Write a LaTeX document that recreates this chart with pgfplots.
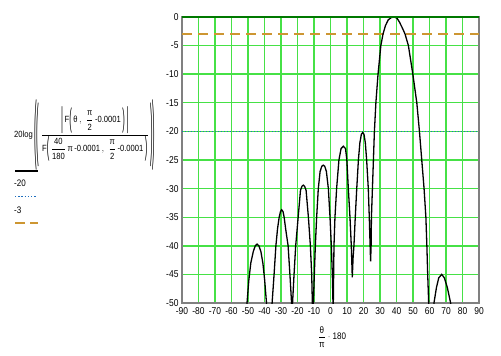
\documentclass[border=0pt]{standalone}
\usepackage{fontspec}
\usepackage{amsmath}
\usepackage{graphicx}
\usepackage{pgfplots}
\pgfplotsset{compat=1.18}
\setmainfont{Liberation Sans}
\newfontfamily\nf[FakeStretch=0.85]{Liberation Sans}
\definecolor{gridgreen}{RGB}{70,225,70}
\definecolor{topgreen}{RGB}{0,120,0}
\definecolor{dotblue}{RGB}{30,110,190}
\definecolor{dashtan}{RGB}{205,150,50}
\definecolor{framegray}{RGB}{128,128,128}
\newcommand\T[1]{\text{\nf #1}}
\newcommand\F[2]{\dfrac{\T{#1}\rule[-3pt]{0pt}{0pt}}{\rule{0pt}{9pt}\T{#2}}}
\newcommand\Lp[1]{\mathopen{\vcenter{\hbox{\scalebox{1}[#1]{\nf (}}}}}
\newcommand\Rp[1]{\mathclose{\vcenter{\hbox{\scalebox{1}[#1]{\nf )}}}}}
\newcommand\Vb[1]{\mathord{\vcenter{\hbox{\scalebox{1}[#1]{\nf |}}}}}
\begin{document}
\begin{tikzpicture}[x=1bp,y=1bp]
\begin{axis}[
  at={(182bp,52bp)}, anchor=south west,
  scale only axis, width=297bp, height=286bp,
  xmin=-90, xmax=90, ymin=-50, ymax=0,
  xtick={-90,-80,...,90},
  xticklabels={-90,-80,-70,-60,-50,-40,-30,-20,-10,0,10,20,30,40,50,60,70,80,90},
  ytick={-50,-45,...,0},
  yticklabels={-50,-45,-40,-35,-30,-25,-20,-15,-10,-5,0},
  major tick length=0pt,
  grid=major,
  major grid style={gridgreen, line width=1.4bp},
  axis line style={framegray, line width=1.2bp},
  ticklabel style={font=\nf\fontsize{10}{12}\selectfont},
  xticklabel style={yshift=-1.5bp},
  clip=true,
]
\addplot[dotblue, line width=1.6bp, dash pattern=on 1.4bp off 1.6bp] coordinates {(-90,-20) (90,-20)};
\addplot[dashtan, line width=2bp, dash pattern=on 10bp off 6bp] coordinates {(-90,-2.9) (90,-2.9)};
\addplot[black, line width=1.3bp] coordinates {
(-51.8,-65) (-50.6,-50) (-49.5,-46) (-48.3,-43) (-46.8,-41) (-45.6,-40) (-44.5,-39.7) (-43.4,-40) (-42.2,-41) (-41,-43) (-39.9,-46) (-38.8,-50) (-37.2,-65)
(-35.4,-50) (-34.2,-45) (-33.1,-40) (-32.1,-37) (-31.1,-35) (-30.3,-34) (-29.6,-33.7) (-28.8,-34) (-28.1,-35) (-27.2,-37) (-25.7,-40) (-24.6,-45) (-23.6,-50) (-23.3,-65)
(-23.0,-50) (-22.1,-45) (-21.1,-40) (-19.6,-35) (-18.2,-30.3) (-17.3,-29.6) (-16.5,-29.4) (-15.7,-29.6) (-14.8,-30.3) (-13.4,-35) (-12.2,-40) (-11.4,-45) (-11.0,-50) (-10.7,-65)
(-10.4,-50) (-9.8,-45) (-9.2,-40) (-8.4,-35) (-7.4,-30) (-6.3,-27) (-5.3,-26.1) (-4.4,-25.9) (-3.5,-26.1) (-2.5,-27) (-1.3,-30) (-0.3,-35) (0.5,-40) (1.1,-45) (1.5,-50) (1.6,-65)
(1.7,-50) (2.1,-40) (2.7,-35) (3.7,-30) (5.1,-25) (6.4,-23) (7.8,-22.6) (9.1,-23) (9.9,-25) (10.8,-30) (11.8,-35) (12.6,-40) (13.2,-45.5)
(13.7,-42) (14.2,-40) (15.0,-35) (15.9,-30) (16.9,-25) (17.8,-22) (18.7,-20.5) (19.5,-20.2) (20.3,-20.5) (21.1,-22) (21.9,-25) (22.9,-30) (23.5,-35) (24.0,-40) (24.3,-42.7)
(24.6,-40) (24.8,-35) (25.4,-30) (26.0,-25) (26.6,-20) (27.5,-15) (28.8,-10) (30.5,-5) (31.8,-3) (33.3,-1.5) (35,-0.5) (36.8,-0.1) (38.5,0) (40.3,-0.2) (41.8,-0.9) (43.5,-1.9) (45.2,-3) (47.2,-5) (49.9,-10) (52.3,-15) (53.9,-20) (55.3,-25) (56.7,-30) (57.8,-35) (58.4,-40) (58.9,-45) (59.5,-50) (60.3,-65)
(62.7,-50) (64.2,-47.3) (65.6,-45.6) (67.4,-45) (69,-45.6) (70.8,-47.3) (72.8,-50) (74,-58)
};
\addplot[topgreen, line width=1.8bp] coordinates {(-90,0) (90,0)};
\end{axis}
\node[anchor=west, inner sep=0, font=\nf\fontsize{9}{11}\selectfont] at (14,220)
 {$\displaystyle \T{20log}\,\Lp{8.4}\Lp{7.6}\,\frac{\Vb{3.2}\,\T{F}\Lp{3}\,\T{θ}\,,\;\F{π}{2}\,\T{-0.0001}\,\Rp{3}\,\Vb{3.2}\rule[-4pt]{0pt}{0pt}}{\rule{0pt}{14pt}\T{F}\Lp{3}\,\F{40}{180}\,\T{π}\,\T{-0.0001}\,,\;\F{π}{2}\,\T{-0.0001}\,\Rp{3}}\,\Rp{7.6}\Rp{8.4}$};
\draw[black, line width=2bp] (15,184.3) -- (38,184.3);
\node[anchor=west, inner sep=0, font=\nf\fontsize{9.5}{11}\selectfont] at (14,172) {-20};
\draw[dotblue, line width=1.4bp, dash pattern=on 1.4bp off 1.8bp] (15,158.3) -- (36,158.3);
\node[anchor=west, inner sep=0, font=\nf\fontsize{9.5}{11}\selectfont] at (14,145) {-3};
\draw[dashtan, line width=1.8bp, dash pattern=on 10bp off 5bp] (15,132.3) -- (38,132.3);
\node[inner sep=0, font=\nf\fontsize{9.5}{11}\selectfont] at (332,18) {$\displaystyle\frac{\T{θ}\rule[-2pt]{0pt}{0pt}}{\rule{0pt}{9pt}\T{π}}\cdot\T{180}$};
\pgfresetboundingbox
\path[use as bounding box] (0,0) rectangle (501,355);
\end{tikzpicture}
\end{document}
